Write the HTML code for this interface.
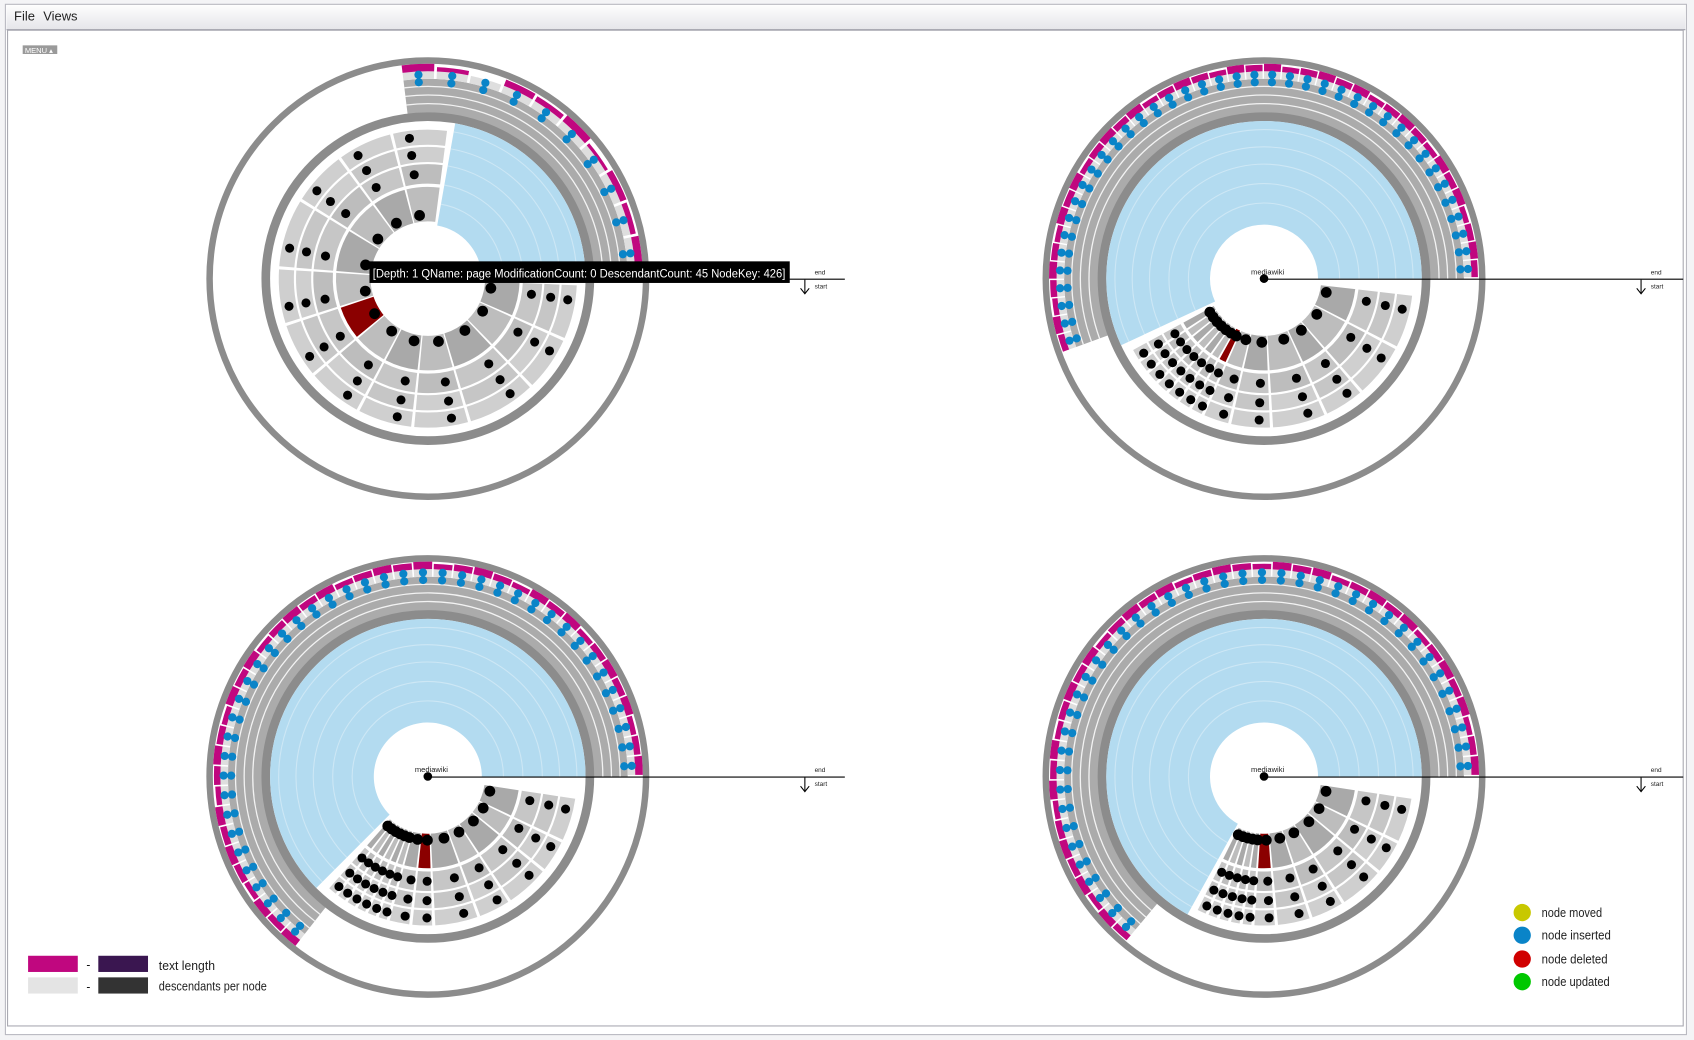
<!DOCTYPE html>
<html><head><meta charset="utf-8"><style>
html,body{margin:0;padding:0;background:#fff;}
svg{display:block;font-family:"Liberation Sans",sans-serif;}
</style></head><body>
<svg id="root" width="1694" height="1040" viewBox="0 0 1568 963" preserveAspectRatio="none" xmlns="http://www.w3.org/2000/svg">
<rect x="0" y="0" width="1568" height="963" fill="#f4f4f6"/>
<rect x="5" y="4" width="1556" height="954" fill="#fff" stroke="#b8b8c0"/>
<defs><linearGradient id="tb" x1="0" y1="0" x2="0" y2="1"><stop offset="0" stop-color="#fdfdfd"/><stop offset="1" stop-color="#e6e6ea"/></linearGradient></defs>
<rect x="6" y="5" width="1554" height="22" fill="url(#tb)"/>
<line x1="6" y1="27.5" x2="1560" y2="27.5" stroke="#9a9aa6"/>
<text x="13" y="19" font-size="12" fill="#222">File</text>
<text x="40" y="19" font-size="12" fill="#222">Views</text>
<rect x="7" y="28" width="1551" height="922" fill="#fff" stroke="#a8a8b0"/>
<g><rect x="21" y="42" width="32" height="8" fill="#9a9a9a"/><text x="23" y="49" font-size="7" fill="#fff">MENU ▴</text></g>
<g id="charts"></g>
<g>
<rect x="26" y="885" width="46" height="15" fill="#c0077f"/><text x="80" y="897" font-size="11">-</text><rect x="91" y="885" width="46" height="15" fill="#3a1650"/>
<text x="147" y="898" font-size="12" fill="#222" textLength="52" lengthAdjust="spacingAndGlyphs">text length</text>
<rect x="26" y="905" width="46" height="15" fill="#e4e4e4"/><text x="80" y="917" font-size="11">-</text><rect x="91" y="905" width="46" height="15" fill="#333"/>
<text x="147" y="917" font-size="12" fill="#222" textLength="100" lengthAdjust="spacingAndGlyphs">descendants per node</text>
</g>
<g>
<circle cx="1409" cy="845" r="8" fill="#c8c800"/><text x="1427" y="849" font-size="12" fill="#222" textLength="56" lengthAdjust="spacingAndGlyphs">node moved</text>
<circle cx="1409" cy="866" r="8" fill="#0a84c8"/><text x="1427" y="870" font-size="12" fill="#222" textLength="64" lengthAdjust="spacingAndGlyphs">node inserted</text>
<circle cx="1409" cy="888" r="8" fill="#d00000"/><text x="1427" y="892" font-size="12" fill="#222" textLength="61" lengthAdjust="spacingAndGlyphs">node deleted</text>
<circle cx="1409" cy="909" r="8" fill="#00c800"/><text x="1427" y="913" font-size="12" fill="#222" textLength="63" lengthAdjust="spacingAndGlyphs">node updated</text>
</g>
</svg>
<script>
const blueStart=[-80,155,135,119];
const blueEnd=[-2,360,360,360];
const sunStart=[2,6,8,8];
const sunEnd=[278,152,132,117];
const pages1=[4,4,5,4,4,4,4,4,5,4,4,4];
const pages2=[4,4,3,4,3,2,1,1,1,1,1,1,1];
const pages3=[4,3,4,3,4,2,2,1,1,1,1,1,1];
const pages4=[4,3,4,3,3,2,1,1,1,1,1];
const highlight=[6,6,5,5];
const outerStart=[-97,160,128,130];
const outerEnd=[-2,360,360,360];
const text1=[8,5,0,7,6,8,4,7,6,8];
const text2=[7,8,6,7,8,7,6,8,7,8,6,7,8,7,8,6,7,8,7,6,8,7,8,6,7,8,7,8,6,7,8,7,6,8,7,8,6,7,8,7];
const text3=[8,7,8,6,7,8,7,8,6,7,8,7,6,8,7,8,6,7,8,7,8,6,7,8,7,8,6,7,8,7,6,8,7,8,6,7,8,7,8,6,7,8];
const text4=[7,8,6,8,7,8,7,6,8,7,8,6,7,8,7,8,6,7,8,7,8,6,7,8,7,6,8,7,8,6,7,8,7,8,6,7,8,7,8,6,7,8];
const allPages=[pages1,pages2,pages3,pages4];
const allText=[text1,text2,text3,text4];
const centers=[[396,258],[1170,258],[396,719],[1170,719]];
const NS="http://www.w3.org/2000/svg";
const R=Math.PI/180;
function mk(tag,attrs,parent){const e=document.createElementNS(NS,tag);for(const k in attrs)e.setAttribute(k,attrs[k]);parent.appendChild(e);return e;}
function sector(cx,cy,r0,r1,a0,a1){const la=(a1-a0)>180?1:0;const p=(r,a)=>(cx+r*Math.cos(a*R)).toFixed(2)+","+(cy+r*Math.sin(a*R)).toFixed(2);
return "M"+p(r0,a0)+"A"+r0+","+r0+" 0 "+la+" 1 "+p(r0,a1)+"L"+p(r1,a1)+"A"+r1+","+r1+" 0 "+la+" 0 "+p(r1,a0)+"Z";}
function arc(cx,cy,r,a0,a1){const la=(a1-a0)>180?1:0;return "M"+(cx+r*Math.cos(a0*R))+","+(cy+r*Math.sin(a0*R))+"A"+r+","+r+" 0 "+la+" 1 "+(cx+r*Math.cos(a1*R))+","+(cy+r*Math.sin(a1*R));}
const host=document.getElementById('charts');
const names=["page","revision","text","summary"];
const bands=[[53,85],[88,106],[108,122],[124,138]];
const fills=["#a9a9a9","#bdbdbd","#c6c6c6","#cfcfcf"];
for(let c=0;c<4;c++){
  const [cx,cy]=centers[c];
  const g=mk('g',{},host);
  
  
  const o=mk('circle',{cx:cx,cy:cy,r:202,fill:'none',stroke:'#8c8c8c','stroke-width':6},g);
  
  const ob=mk('g',{},g);
  const os=outerStart[c],oe=outerEnd[c];
  mk('path',{d:sector(cx,cy,153,185,os,oe),fill:'#ababab'},ob);
  [162,170,178].forEach(r=>mk('path',{d:arc(cx,cy,r,os,oe),fill:'none',stroke:'#fff','stroke-width':1.2,'stroke-opacity':0.85},ob));
  const tv=allText[c];const step=(oe-os)/tv.length;
  tv.forEach((v,i)=>{const a0=os+i*step,a1=a0+step*0.92;
    mk('path',{d:sector(cx,cy,185,192,a0,a1),fill:'#dedede'},ob);
    if(v>0){const m=mk('path',{d:sector(cx,cy,192,191+v,a0,a1),fill:'#c0077f'},ob);
    }
    const am=(a0+a1)/2;
    const d=mk('circle',{cx:cx+189*Math.cos(am*R),cy:cy+189*Math.sin(am*R),r:3.8,fill:'#0a84c8'},ob);
    
    const d2=mk('circle',{cx:cx+182*Math.cos(am*R),cy:cy+182*Math.sin(am*R),r:3.8,fill:'#0a84c8'},ob);
    
  });
  const ir=mk('circle',{cx:cx,cy:cy,r:150,fill:'none',stroke:'#8c8c8c','stroke-width':8},g);
  
  const bs=mk('path',{d:sector(cx,cy,50,146,blueStart[c],blueEnd[c]),fill:'#b3dbf0'},g);
  
  [70,88,106,122,138].forEach(r=>{mk('path',{d:arc(cx,cy,r,blueStart[c],blueEnd[c]),fill:'none',stroke:'#fff','stroke-opacity':0.35,'stroke-width':1},g);});
  const pg=allPages[c];const tot=pg.reduce((a,b)=>a+b,0);const span=sunEnd[c]-sunStart[c];
  let acc=sunStart[c];
  pg.forEach((n,i)=>{const a0=acc,a1=acc+span*n/tot;acc=a1;
    bands.forEach((b,l)=>{
      const w=mk('path',{d:sector(cx,cy,b[0],b[1],a0+0.6,a1-0.6),fill:(i===highlight[c]&&l===0)?'#8b0000':fills[(l+i)%2===0?l:Math.min(l+1,3)]},g);
      
      const am=a0+(a1-a0)*0.3,rr=l===0?b[0]+6:(b[0]+b[1])/2;
      const dt=mk('circle',{cx:cx+rr*Math.cos(am*R),cy:cy+rr*Math.sin(am*R),r:l===0?5:4.2,fill:'#000'},g);
      
    });
  });
  if(c>0){
    mk('circle',{cx:cx,cy:cy,r:4,fill:'#000'},g);
    const t=mk('text',{x:cx-12,y:cy-4,'font-size':7,fill:'#222'},g);t.textContent='mediawiki';
    
  }
  const ax=mk('g',{},g);
  const x1=c%2===0?782:1558;
  mk('line',{x1:cx,y1:cy+0.5,x2:x1,y2:cy+0.5,stroke:'#000','stroke-width':1},ax);
  const axx=cx+349;
  mk('line',{x1:axx,y1:cy+1,x2:axx,y2:cy+13,stroke:'#000'},ax);
  mk('path',{d:`M${axx-4},${cy+9}L${axx},${cy+14}L${axx+4},${cy+9}`,fill:'none',stroke:'#000'},ax);
  const te=mk('text',{x:cx+358,y:cy-4,'font-size':6,fill:'#222'},ax);te.textContent='end';
  const ts=mk('text',{x:cx+358,y:cy+9,'font-size':6,fill:'#222'},ax);ts.textContent='start';
}
const tg=mk('g',{},host);


mk('rect',{x:342,y:242,width:389,height:20,fill:'#000'},tg);
const tt=mk('text',{x:345,y:257,'font-size':11.5,fill:'#fff',textLength:382,lengthAdjust:'spacingAndGlyphs'},tg);
tt.textContent='[Depth: 1 QName: page ModificationCount: 0 DescendantCount: 45 NodeKey: 426]';
</script>
</body></html>
